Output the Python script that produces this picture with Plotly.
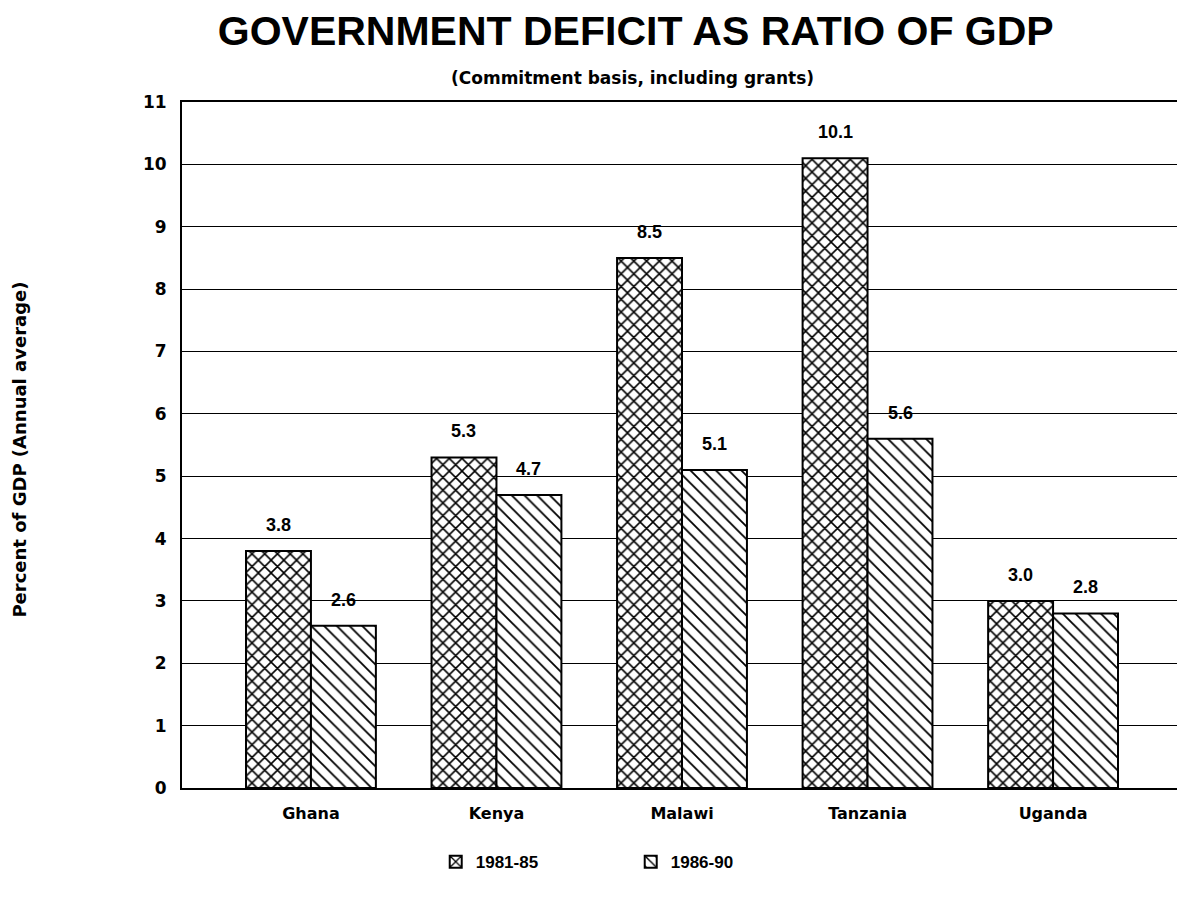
import plotly.graph_objects as go

countries = ["Ghana", "Kenya", "Malawi", "Tanzania", "Uganda"]
p1981_85 = [3.8, 5.3, 8.5, 10.1, 3.0]
p1986_90 = [2.6, 4.7, 5.1, 5.6, 2.8]
series_names = ["1981-85", "1986-90"]
y_ticks = list(range(0, 12))

TF = "Liberation Sans"
SF = "DejaVu Sans"

fig = go.Figure()
fig.add_trace(go.Bar(
    x=countries, y=p1981_85, name=series_names[0],
    marker=dict(color="white", line=dict(color="black", width=2),
                pattern=dict(shape="x", fgcolor="black", bgcolor="white", fgopacity=1, size=9, solidity=0.32)),
))
fig.add_trace(go.Bar(
    x=countries, y=p1986_90, name=series_names[1],
    marker=dict(color="white", line=dict(color="black", width=2),
                pattern=dict(shape="\\", fgcolor="black", bgcolor="white", fgopacity=1, size=9, solidity=0.2)),
))

# value labels placed at each bar's data value (group offset = half bar width in px)
annots = []
for series, shift in ((p1981_85, -32.5), (p1986_90, 32.5)):
    for c, v in zip(countries, series):
        annots.append(dict(x=c, y=v, xref="x", yref="y", text=f"{v:.1f}", showarrow=False,
                           xanchor="center", yanchor="bottom", xshift=shift, yshift=14,
                           font=dict(family=TF, size=18, color="black", weight="bold")))

annots += [
    dict(text="(Commitment basis, including grants)", xref="paper", yref="paper",
         x=0.453, y=1.035, xanchor="center", yanchor="middle", showarrow=False,
         font=dict(family=SF, size=17, color="black", weight="bold")),
    dict(text="Percent of GDP (Annual average)", xref="paper", yref="paper",
         x=-0.163, y=0.493, xanchor="center", yanchor="middle", showarrow=False,
         textangle=-90, font=dict(family=SF, size=18, color="black", weight="bold")),
]

fig.update_layout(
    width=1169, height=893,
    paper_bgcolor="white", plot_bgcolor="white",
    margin=dict(l=174, r=0, t=94, b=113, autoexpand=False),
    font=dict(family=TF, color="black"),
    barmode="group", bargap=0.3, bargroupgap=0,
    title=dict(text="GOVERNMENT DEFICIT AS RATIO OF GDP", xref="container", x=0.537,
               xanchor="center", yref="container", y=0.975, yanchor="middle",
               font=dict(family=TF, size=41, color="black", weight="bold")),
    showlegend=True,
    legend=dict(orientation="h", x=0.255, xanchor="left", y=-0.108, yanchor="middle",
                font=dict(family=TF, size=17, color="black", weight="bold"),
                entrywidth=150, entrywidthmode="pixels", traceorder="normal"),
    annotations=annots,
)
fig.update_xaxes(range=[-0.695, 4.668], showline=True, linecolor="black", linewidth=2, mirror=True,
                 ticks="", ticklabelstandoff=10,
                 tickfont=dict(family=SF, size=16, color="black", weight="bold"))
fig.update_yaxes(range=[0, 11], tickvals=y_ticks, showgrid=True, gridcolor="black", gridwidth=1.3,
                 showline=True, linecolor="black", linewidth=2, mirror=True, zeroline=False,
                 ticks="", ticklabelstandoff=10,
                 tickfont=dict(family=SF, size=17, color="black", weight="bold"))

fig.write_html("out.html")
